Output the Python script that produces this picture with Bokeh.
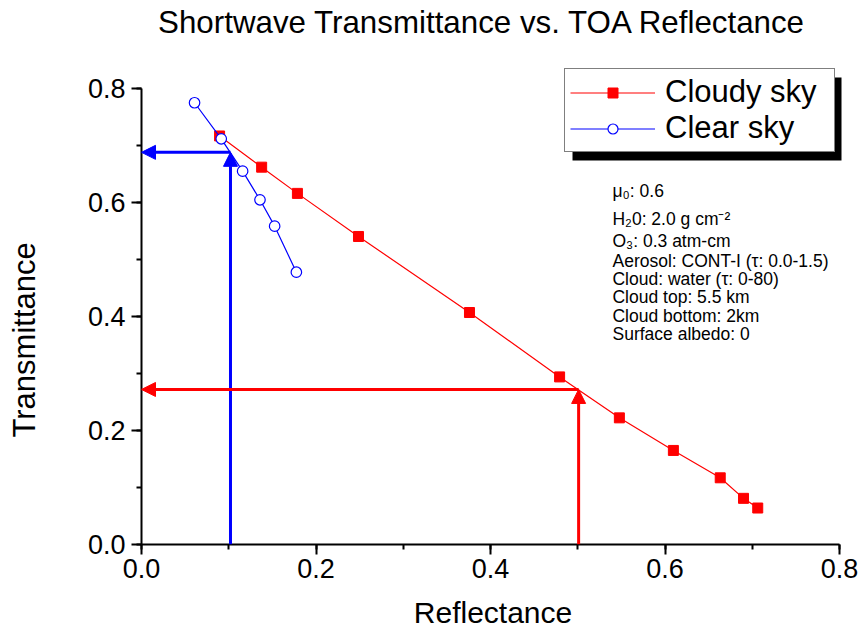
from bokeh.plotting import figure
from bokeh.models import (Range1d, SingleIntervalTicker, NumeralTickFormatter, Label, Title,
                          Arrow, NormalHead, BoxAnnotation, Legend, LegendItem)
from bokeh.embed import file_html
from bokeh.resources import INLINE

# ---- data ----
cloudy_reflectance = [0.0895, 0.1377, 0.1787, 0.2487, 0.3759, 0.4792, 0.5477, 0.6096, 0.6633, 0.6900, 0.7063]
cloudy_transmittance = [0.7167, 0.6620, 0.6160, 0.5404, 0.4070, 0.2940, 0.2222, 0.1650, 0.1170, 0.0810, 0.0640]
clear_reflectance = [0.0608, 0.0914, 0.1159, 0.1358, 0.1526, 0.1775]
clear_transmittance = [0.7750, 0.7117, 0.6550, 0.6047, 0.5585, 0.4777]

# retrieval examples (reflectance -> transmittance)
clear_example = (0.102, 0.688)
cloudy_example = (0.501, 0.272)

tick_values = [0.0, 0.2, 0.4, 0.6, 0.8]

notes = ["\u03bc\u2080: 0.6",
         "H\u20820: 2.0 g cm\u207b\u00b2",
         "O\u2083: 0.3 atm-cm",
         "Aerosol: CONT-I (\u03c4: 0.0-1.5)",
         "Cloud: water (\u03c4: 0-80)",
         "Cloud top: 5.5 km",
         "Cloud bottom: 2km",
         "Surface albedo: 0"]
note_rows = [0.6207, 0.5710, 0.5325, 0.4979, 0.4658, 0.4342, 0.4014, 0.3693]

FONT = "Liberation Sans"
RED = "#FF0000"
BLUE = "#0000FF"

PX_X = 872.5   # pixels per unit reflectance
PX_Y = 570.0   # pixels per unit transmittance

p = figure(width=860, height=632, output_backend="svg", toolbar_location=None,
           x_range=Range1d(0, 703 / PX_X), y_range=Range1d(0, 544 / PX_Y),
           min_border_left=141, min_border_right=16, min_border_top=0, min_border_bottom=88)
p.grid.visible = False
p.outline_line_color = None
p.background_fill_color = "white"
p.border_fill_color = "white"

for ax in (p.xaxis[0], p.yaxis[0]):
    ax.ticker = SingleIntervalTicker(interval=0.2, num_minor_ticks=2)
    ax.bounds = (tick_values[0], tick_values[-1])
    ax.formatter = NumeralTickFormatter(format="0.0")
    ax.axis_line_width = 2
    ax.major_tick_line_width = 2
    ax.minor_tick_line_width = 2
    ax.major_tick_out = 10
    ax.major_tick_in = 0
    ax.minor_tick_out = 5
    ax.minor_tick_in = 0
    ax.major_label_text_font = FONT
    ax.major_label_text_font_size = "27px"
    ax.major_label_text_color = "black"
    ax.axis_line_color = "black"
    ax.major_tick_line_color = "black"
    ax.minor_tick_line_color = "black"
p.xaxis.major_label_standoff = 4
p.yaxis.major_label_standoff = 6

p.xaxis.axis_label = "Reflectance"
p.xaxis.axis_label_text_font = FONT
p.xaxis.axis_label_text_font_size = "30px"
p.xaxis.axis_label_text_font_style = "normal"
p.xaxis.axis_label_text_color = "black"
p.xaxis.axis_label_standoff = 15

# blank y axis label only reserves room, the visible label is a side title
p.yaxis.axis_label = " "
p.yaxis.axis_label_text_font_size = "1px"
p.yaxis.axis_label_standoff = 38

p.add_layout(Title(text="Transmittance", align="left", offset=107, standoff=2,
                   text_font=FONT, text_font_size="31px", text_font_style="normal",
                   text_color="black"), "left")

# series
r_line = p.line(cloudy_reflectance, cloudy_transmittance, line_color=RED, line_width=1.2)
r_sq = p.scatter(cloudy_reflectance, cloudy_transmittance, marker="square", size=10,
                 fill_color=RED, line_color=RED)
b_line = p.line(clear_reflectance, clear_transmittance, line_color=BLUE, line_width=1.2)
b_circ = p.scatter(clear_reflectance, clear_transmittance, marker="circle", size=10.5,
                   fill_color="white", line_color=BLUE, line_width=1.2)

# arrows
for (rx, ty), col in ((clear_example, BLUE), (cloudy_example, RED)):
    p.add_layout(Arrow(x_start=rx, y_start=0, x_end=rx, y_end=ty, line_color=col, line_width=3,
                       end=NormalHead(size=14, fill_color=col, line_color=col)))
    p.add_layout(Arrow(x_start=rx, y_start=ty, x_end=0, y_end=ty, line_color=col, line_width=3,
                       end=NormalHead(size=14, fill_color=col, line_color=col)))

# legend shadow + legend
p.add_layout(BoxAnnotation(left=0.494, right=0.8023, top=0.8193, bottom=0.6737,
                           fill_color="black", fill_alpha=1, line_color=None))
legend = Legend(items=[LegendItem(label="Cloudy sky", renderers=[r_line, r_sq]),
                       LegendItem(label="Clear sky", renderers=[b_line, b_circ])],
                location=(423, 392), margin=0, padding=5, spacing=0,
                glyph_width=85, glyph_height=25, label_standoff=10,
                label_width=164, label_height=25,
                label_text_font=FONT, label_text_font_size="31px", label_text_color="black",
                border_line_color="black", border_line_width=1,
                background_fill_color="white", background_fill_alpha=1)
p.add_layout(legend, "center")

# notes
for txt, yb in zip(notes, note_rows):
    p.add_layout(Label(x=0.5398, y=yb, text=txt, text_font=FONT, text_font_size="17.5px",
                       text_color="black", text_baseline="alphabetic", text_align="left"))

# chart title
p.add_layout(Label(x=0.3908, y=0.9158, text="Shortwave Transmittance vs. TOA Reflectance",
                   text_font=FONT, text_font_size="31.3px", text_color="black",
                   text_align="center", text_baseline="alphabetic"))

open("out.html", "w").write(file_html(p, INLINE))
